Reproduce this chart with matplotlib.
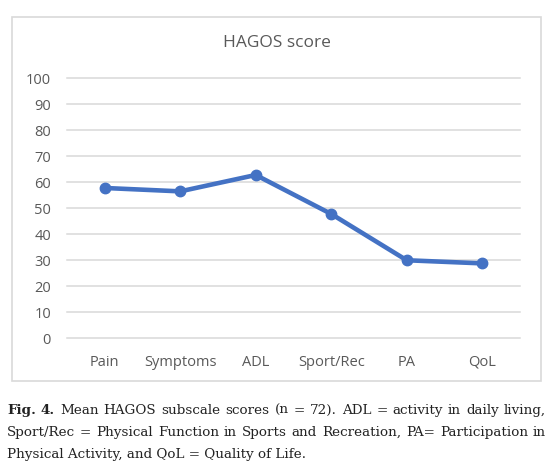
import matplotlib
matplotlib.use("Agg")
import matplotlib.pyplot as plt
from matplotlib.patches import Rectangle

# ── data ──────────────────────────────────────────────────────────────────────
categories = ["Pain", "Symptoms", "ADL", "Sport/Rec", "PA", "QoL"]
scores = [57.7, 56.4, 62.7, 47.7, 29.9, 28.7]
yticks = [0, 10, 20, 30, 40, 50, 60, 70, 80, 90, 100]

caption_lines = [
    [("Fig.", "bold"), ("4.", "bold"), ("Mean", "normal"), ("HAGOS", "normal"),
     ("subscale", "normal"), ("scores", "normal"), ("(n", "normal"), ("=", "normal"),
     ("72).", "normal"), ("ADL", "normal"), ("=", "normal"), ("activity", "normal"),
     ("in", "normal"), ("daily", "normal"), ("living,", "normal")],
    [("Sport/Rec", "normal"), ("=", "normal"), ("Physical", "normal"), ("Function", "normal"),
     ("in", "normal"), ("Sports", "normal"), ("and", "normal"), ("Recreation,", "normal"),
     ("PA=", "normal"), ("Participation", "normal"), ("in", "normal")],
]
caption_last = "Physical Activity, and QoL = Quality of Life."

# ── styling ───────────────────────────────────────────────────────────────────
W, H = 556, 466
LINE_COL = "#4472C4"
TEXT_COL = "#595959"
GRID_COL = "#d9d9d9"
UI_FONT = ["Open Sans", "DejaVu Sans"]
CAP_FONT = ["DejaVu Serif"]
CAP_SIZE = 9.7


def px(x, y):
    """pixel (top-left origin) -> figure fraction"""
    return x / W, 1 - y / H


fig = plt.figure(figsize=(W / 100, H / 100), dpi=100)

# chart frame
x0, y0 = px(12, 17)
x1, y1 = px(541, 381)
fig.patches.append(Rectangle((x0, y1), x1 - x0, y0 - y1, transform=fig.transFigure,
                             fill=False, edgecolor=GRID_COL, linewidth=1.2))

# plot area
l, t = px(67, 78)
r, b = px(520, 338)
ax = fig.add_axes([l, b, r - l, t - b])
xs = range(len(categories))
ax.plot(xs, scores, color=LINE_COL, linewidth=3.3, marker="o", markersize=7.5,
        solid_capstyle="round", zorder=3)
ax.set_xlim(-0.5, len(categories) - 0.5)
ax.set_ylim(0, 100)
ax.set_yticks(yticks)
ax.set_xticks(list(xs))
ax.set_xticklabels(categories)
ax.yaxis.grid(True, color=GRID_COL, linewidth=1.1)
for gl in ax.get_ygridlines():
    gl.set_clip_on(False)
ax.set_axisbelow(True)
for s in ax.spines.values():
    s.set_visible(False)
ax.tick_params(axis="both", length=0, labelsize=10.5, labelcolor=TEXT_COL)
ax.tick_params(axis="y", pad=11.5)
ax.tick_params(axis="x", pad=12)
for lab in ax.get_xticklabels() + ax.get_yticklabels():
    lab.set_family(UI_FONT)

tx, ty = px(277, 43)
fig.text(tx, ty, "HAGOS score", ha="center", va="center", fontsize=12.5,
         color=TEXT_COL, family=UI_FONT)

# ── caption, justified ────────────────────────────────────────────────────────
fig.canvas.draw()
rend = fig.canvas.get_renderer()


def text_width(s, weight):
    tt = fig.text(0, 0, s, fontsize=CAP_SIZE, family=CAP_FONT, fontweight=weight)
    w = tt.get_window_extent(rend).width
    tt.remove()
    return w


left_px, right_px = 7, 546
line_y = [414, 436]
for words, yy in zip(caption_lines, line_y):
    widths = [text_width(w, wt) for w, wt in words]
    gap = (right_px - left_px - sum(widths)) / (len(words) - 1)
    xcur = left_px
    for (w, wt), wd in zip(words, widths):
        fx, fy = px(xcur, yy)
        fig.text(fx, fy, w, fontsize=CAP_SIZE, family=CAP_FONT, fontweight=wt,
                 color="#222222", va="baseline", ha="left")
        xcur += wd + gap

fx, fy = px(left_px, 458)
fig.text(fx, fy, caption_last, fontsize=CAP_SIZE, family=CAP_FONT,
         color="#222222", va="baseline", ha="left")

fig.savefig("out.png", dpi=100)
